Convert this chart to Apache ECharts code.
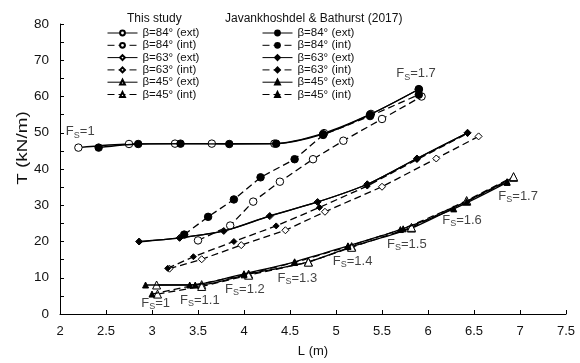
<!DOCTYPE html>
<html><head><meta charset="utf-8">
<script src="https://cdn.jsdelivr.net/npm/echarts@6/dist/echarts.min.js"></script>
<style>html,body{margin:0;padding:0;background:#fff}#c{width:580px;height:363px}</style>
</head><body><div id="c"></div>
<script>
// Reinforcement load T (kN/m) against length L (m), points ordered by factor of safety Fs = 1.0 ... 1.7

// beta = 84 deg
const study84ext = [[2.2,45.9],[2.75,46.9],[3.25,47.0],[3.65,47.0],[4.33,47.0],[4.87,49.9],[5.38,55.2],[5.9,62.0]];
const study84int = [[3.5,20.3],[3.85,24.4],[4.1,31.0],[4.39,36.5],[4.75,42.7],[5.08,47.8],[5.5,53.8],[5.93,60.0]];
const jb84ext = [[2.42,45.9],[2.85,46.9],[3.31,47.0],[3.84,46.9],[4.35,47.0],[4.86,49.6],[5.37,55.0],[5.9,62.0]];
const jb84int = [[3.35,21.9],[3.61,26.8],[3.89,31.6],[4.18,37.7],[4.55,42.7],[4.86,49.4],[5.37,54.6],[5.9,60.5]];

// beta = 63 deg
const study63ext = [[2.86,20.0],[3.3,21.0],[3.78,22.9],[4.28,27.0],[4.8,30.9],[5.34,35.8],[5.88,42.9],[6.43,50.0]];
const study63int = [[3.19,12.5],[3.54,15.1],[3.97,19.0],[4.45,23.1],[4.88,28.2],[5.5,35.1],[6.09,42.9],[6.55,49.0]];
const jb63ext = [[2.86,19.9],[3.3,21.0],[3.78,22.9],[4.28,27.1],[4.8,30.9],[5.34,35.8],[5.88,42.9],[6.43,50.0]];
const jb63int = [[3.17,12.6],[3.45,15.8],[3.89,20.0],[4.35,24.3],[4.82,29.4],[5.34,35.3],[5.88,42.6],[6.43,49.8]];

// beta = 45 deg
const study45ext = [[3.05,8.0],[3.54,8.1],[4.05,11.0],[4.7,14.4],[5.17,18.6],[5.82,23.7],[6.42,31.1],[6.93,37.7]];
const study45int = [[3.06,5.5],[3.54,7.6],[4.05,10.7],[4.7,14.3],[5.17,18.4],[5.82,23.9],[6.42,31.3],[6.93,37.9]];
const jb45ext = [[2.93,8.0],[3.41,8.0],[4.0,11.1],[4.55,14.4],[5.13,18.8],[5.7,23.3],[6.28,29.0],[6.86,36.3]];
const jb45int = [[3.0,5.5],[3.47,8.0],[4.0,10.8],[4.55,14.2],[5.13,18.6],[5.73,23.5],[6.42,31.0],[6.86,36.5]];

// Factor-of-safety annotations: [L, T, Fs]
const fsNotes = [
  [2.22,50.3,'1'],[5.87,66.3,'1.7'],
  [3.04,3.0,'1'],[3.52,3.8,'1.1'],[4.01,6.8,'1.2'],[4.58,9.9,'1.3'],
  [5.18,14.5,'1.4'],[5.77,19.3,'1.5'],[6.37,25.8,'1.6'],[6.98,32.5,'1.7']
];

const xTicks = {min:2, max:7.5, step:0.5};
const yTicks = {min:0, max:80, step:10};

const FONT = 'Liberation Sans, Arial, sans-serif';
const BLACK = '#000';
const TEXT = '#111';

function line(name, data, opts) {
  return {
    name: name, type: 'line', data: data,
    smooth: opts.smooth || 0,
    symbol: opts.symbol, symbolSize: opts.size,
    showSymbol: true,
    lineStyle: {color: BLACK, width: 1.3, type: opts.dashed ? [7,4] : 'solid'},
    itemStyle: {color: opts.filled ? BLACK : '#fff', borderColor: BLACK, borderWidth: 1},
    emphasis: {disabled: true},
    z: opts.filled ? 3 : 2
  };
}

const S = 'This study|', J = 'JB2017|';
const series = [
  line(S+'β=84° (ext)', study84ext, {symbol:'circle', size:7.5, smooth:0.3}),
  line(S+'β=84° (int)', study84int, {symbol:'circle', size:7.5, dashed:true}),
  line(S+'β=63° (ext)', study63ext, {symbol:'diamond', size:7, smooth:0.3}),
  line(S+'β=63° (int)', study63int, {symbol:'diamond', size:7, dashed:true}),
  line(S+'β=45° (ext)', study45ext, {symbol:'triangle', size:8, smooth:0.3}),
  line(S+'β=45° (int)', study45int, {symbol:'triangle', size:8, dashed:true}),
  line(J+'β=84° (ext)', jb84ext, {symbol:'circle', size:7.5, filled:true, smooth:0.3}),
  line(J+'β=84° (int)', jb84int, {symbol:'circle', size:7.5, filled:true, dashed:true}),
  line(J+'β=63° (ext)', jb63ext, {symbol:'diamond', size:6, filled:true, smooth:0.3}),
  line(J+'β=63° (int)', jb63int, {symbol:'diamond', size:6, filled:true, dashed:true}),
  line(J+'β=45° (ext)', jb45ext, {symbol:'triangle', size:6, filled:true, smooth:0.3}),
  line(J+'β=45° (int)', jb45int, {symbol:'triangle', size:6, filled:true, dashed:true}),
  {
    type: 'scatter', symbolSize: 0, silent: true, z: 5,
    data: fsNotes.map(n => ({value: [n[0], n[1]], fs: n[2]})),
    label: {
      show: true, position: [0,0], align: 'center', verticalAlign: 'middle',
      formatter: p => '{f|F}{s|S}{f|=' + p.data.fs + '}',
      rich: {
        f: {fontFamily: FONT, fontSize: 13, color: TEXT, lineHeight: 16},
        s: {fontFamily: FONT, fontSize: 9, color: TEXT, lineHeight: 9, verticalAlign: 'bottom'}
      }
    }
  }
];

const legendBase = {
  orient: 'vertical', itemWidth: 30, itemHeight: 6, itemGap: 0.3,
  textStyle: {fontFamily: FONT, fontSize: 11.5, color: TEXT, lineHeight: 12},
  lineStyle: {width: 1},
  formatter: n => n.split('|')[1],
  selectedMode: false
};

const chart = echarts.init(document.getElementById('c'), null, {renderer: 'canvas'});
chart.setOption({
  animation: false,
  backgroundColor: '#fff',
  title: [
    {text: 'This study', left: 122, top: 8, textStyle: {fontFamily: FONT, fontSize: 12, fontWeight: 'normal', color: TEXT}},
    {text: 'Javankhoshdel & Bathurst (2017)', left: 220, top: 8, textStyle: {fontFamily: FONT, fontSize: 12, fontWeight: 'normal', color: TEXT}}
  ],
  legend: [
    Object.assign({}, legendBase, {left: 102, top: 22, data: series.slice(0,6).map(s => s.name)}),
    Object.assign({}, legendBase, {left: 257, top: 22, data: series.slice(6,12).map(s => s.name)})
  ],
  graphic: [{
    // vertical axis title
    type: 'text', x: 23, y: 148, rotation: Math.PI / 2, scaleX: 1.35,
    style: {text: 'T (kN/m)', fontFamily: FONT, fontSize: 14, fill: TEXT, align: 'center', verticalAlign: 'middle'}
  }],
  grid: {left: 60, right: 14, top: 24, bottom: 47, containLabel: false},
  xAxis: {
    type: 'value', min: xTicks.min, max: xTicks.max, interval: xTicks.step,
    name: 'L (m)', nameLocation: 'middle', nameGap: 31,
    nameTextStyle: {fontFamily: FONT, fontSize: 13, color: TEXT},
    axisLine: {lineStyle: {color: BLACK, width: 1}},
    axisTick: {inside: true, length: 4, lineStyle: {color: BLACK}},
    axisLabel: {fontFamily: FONT, fontSize: 13, color: TEXT, margin: 11},
    splitLine: {show: false}
  },
  yAxis: {
    type: 'value', min: yTicks.min, max: yTicks.max, interval: yTicks.step,
    axisLine: {lineStyle: {color: BLACK, width: 1}},
    axisTick: {inside: true, length: 4, lineStyle: {color: BLACK}},
    minorTick: {show: true, splitNumber: 2, length: 4, lineStyle: {color: BLACK}},
    axisLabel: {fontFamily: FONT, fontSize: 13.5, color: TEXT, margin: 11},
    splitLine: {show: false}
  },
  series: series
});
</script></body></html>
